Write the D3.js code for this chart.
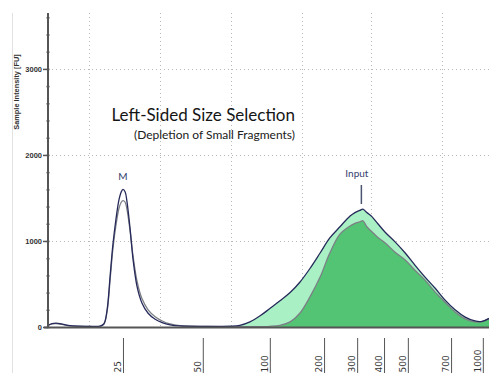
<!DOCTYPE html>
<html><head><meta charset="utf-8">
<script src="https://cdn.jsdelivr.net/npm/d3@7"></script>
<style>html,body{margin:0;padding:0;background:#fff;}svg{display:block;}</style>
</head><body>
<svg id="c" width="489" height="373"></svg>
<script>
// Migration time (arbitrary units) at which the traces were read
const times = [0.0,0.9,1.8,2.7,3.6,5.0,7.3,9.5,11.8,12.7,13.4,14.1,14.7,15.4,16.1,16.6,17.0,17.5,17.9,18.6,19.3,20.2,21.3,22.7,24.3,25.9,27.7,29.9,34.5,39.0,41.3,43.5,45.8,48.1,50.3,52.6,54.9,57.1,59.4,61.7,63.9,66.2,68.5,69.6,70.7,71.4,72.3,73.5,74.8,76.4,78.7,81.0,83.2,85.5,87.8,90.0,92.3,94.6,96.8,98.4,100];
// Input sample intensity [FU]
const inputFU = [20,40,45,40,30,15,10,8,10,40,200,600,950,1250,1480,1570,1600,1570,1460,1150,780,470,280,160,90,50,25,12,8,8,10,20,60,130,215,305,400,520,680,860,1035,1165,1290,1330,1355,1370,1330,1280,1200,1105,990,860,720,580,450,315,200,115,70,65,100];
// Size-selected sample intensity [FU]
const selectedFU = [15,35,40,35,25,12,8,6,8,35,180,560,900,1180,1380,1450,1470,1450,1370,1120,820,530,330,200,120,70,35,15,8,5,5,5,5,5,8,20,60,160,350,580,860,1080,1175,1205,1222,1235,1165,1105,1040,980,870,780,660,545,405,290,175,95,60,62,95];
// Ladder sizes [bp] and their migration times
const ladderSizes = ["25","50","100","200","300","400","500","700","1000"];
const ladderTimes = [17.0,35.1,50.3,62.6,70.1,76.2,81.6,91.4,98.6];
// Grid positions
const gridTimes = [9.3,25.4,41.5,57.6,73.3,89.3];
const yMajor = [0,1000,2000,3000];
const yMinor = d3.range(0,3601,200);
const fillFrom = 39.0;

const svg = d3.select("#c");
const x = d3.scaleLinear().domain([0,100]).range([48,489]);
const y = d3.scaleLinear().domain([0,3650]).range([327,13]);

// faint frame line at left
svg.append("line").attr("x1",12.5).attr("x2",12.5).attr("y1",13).attr("y2",373)
  .attr("stroke","#e2e2e2").attr("stroke-width",1);

// grid
const grid = svg.append("g").attr("stroke","#b8b8b8").attr("stroke-width",1).attr("stroke-dasharray","1,3");
grid.selectAll("line.v").data(gridTimes).join("line").attr("class","v")
  .attr("x1",d=>Math.round(x(d))+0.5).attr("x2",d=>Math.round(x(d))+0.5).attr("y1",y(3650)).attr("y2",y(0));
grid.selectAll("line.h").data([1000,2000,3000]).join("line").attr("class","h")
  .attr("x1",x(0)).attr("x2",489).attr("y1",d=>Math.round(y(d))+0.5).attr("y2",d=>Math.round(y(d))+0.5);

const data = times.map((t,i)=>({t, a:inputFU[i], b:selectedFU[i]}));
const fillData = data.filter(d=>d.t>=fillFrom);
const curve = d3.curveCatmullRom.alpha(0.5);

svg.append("path").datum(fillData).attr("fill","#a9f1c4")
  .attr("d", d3.area().curve(curve).x(d=>x(d.t)).y0(y(0)).y1(d=>y(d.a)));
svg.append("path").datum(fillData).attr("fill","#52c474")
  .attr("d", d3.area().curve(curve).x(d=>x(d.t)).y0(y(0)).y1(d=>y(d.b)));

svg.append("path").datum(data).attr("fill","none").attr("stroke","#7d7f86").attr("stroke-width",1.3)
  .attr("d", d3.line().curve(curve).x(d=>x(d.t)).y(d=>y(d.b)));
svg.append("path").datum(data).attr("fill","none").attr("stroke","#262a5a").attr("stroke-width",1.3)
  .attr("d", d3.line().curve(curve).x(d=>x(d.t)).y(d=>y(d.a)));

// y axis
const yAxMinor = svg.append("g").attr("transform","translate(48,0)")
  .call(d3.axisLeft(y).tickValues(yMinor).tickSize(3).tickFormat(""));
yAxMinor.select(".domain").remove();
yAxMinor.selectAll("line").attr("stroke","#555").attr("stroke-width",1.5).attr("transform","translate(1.5,0)");
const yAx = svg.append("g").attr("transform","translate(48,0)")
  .call(d3.axisLeft(y).tickValues(yMajor).tickSize(5).tickFormat(d3.format("d")));
yAx.select(".domain").remove();
yAx.selectAll("line").attr("stroke","#555").attr("stroke-width",1.5);
yAx.selectAll("text").attr("x",-6).attr("font-family","Liberation Sans, Arial, sans-serif")
  .attr("font-size",7.5).attr("font-weight","bold").attr("fill","#333");
svg.append("line").attr("x1",48).attr("x2",48).attr("y1",13).attr("y2",328)
  .attr("stroke","#555").attr("stroke-width",2);
svg.append("line").attr("x1",44).attr("x2",489).attr("y1",327.5).attr("y2",327.5)
  .attr("stroke","#555").attr("stroke-width",2);

svg.append("text").attr("transform","translate(19,92) rotate(-90)")
  .attr("text-anchor","middle").attr("font-family","Liberation Sans, Arial, sans-serif")
  .attr("font-size",7.4).attr("font-weight","bold").attr("fill","#333").text("Sample Intensity [FU]");

// x ladder axis
const xAx = svg.append("g").attr("transform","translate(0,338)")
  .call(d3.axisBottom(x).tickValues(ladderTimes).tickSize(36).tickFormat((d,i)=>ladderSizes[i]));
xAx.select(".domain").remove();
xAx.selectAll("line").attr("stroke","#555").attr("stroke-width",1);
xAx.selectAll("text").attr("x",0).attr("y",0).attr("dy",0).attr("text-anchor","start")
  .attr("transform","translate(-2.5,34.5) rotate(-90)")
  .attr("font-family","DejaVu Sans, sans-serif").attr("font-size",9).attr("fill","#333");

// annotations
svg.append("text").attr("x",295).attr("y",121).attr("text-anchor","end")
  .attr("font-family","Lato, Open Sans, sans-serif").attr("font-size",17).attr("fill","#151515")
  .text("Left-Sided Size Selection");
svg.append("text").attr("x",295).attr("y",139).attr("text-anchor","end")
  .attr("font-family","Lato, Open Sans, sans-serif").attr("font-size",12).attr("fill","#202020")
  .text("(Depletion of Small Fragments)");
svg.append("text").attr("x",x(17.0)).attr("y",180).attr("text-anchor","middle")
  .attr("font-family","Lato, Open Sans, sans-serif").attr("font-size",10).attr("fill","#34406e").text("M");
svg.append("text").attr("x",x(71.4)-6).attr("y",177).attr("text-anchor","middle")
  .attr("font-family","Lato, Open Sans, sans-serif").attr("font-size",10).attr("fill","#34406e").text("Input");
svg.append("line").attr("x1",x(71.4)-1.5).attr("x2",x(71.4)-1.5).attr("y1",185).attr("y2",204)
  .attr("stroke","#4a5470").attr("stroke-width",1.5);
</script>
</body></html>
